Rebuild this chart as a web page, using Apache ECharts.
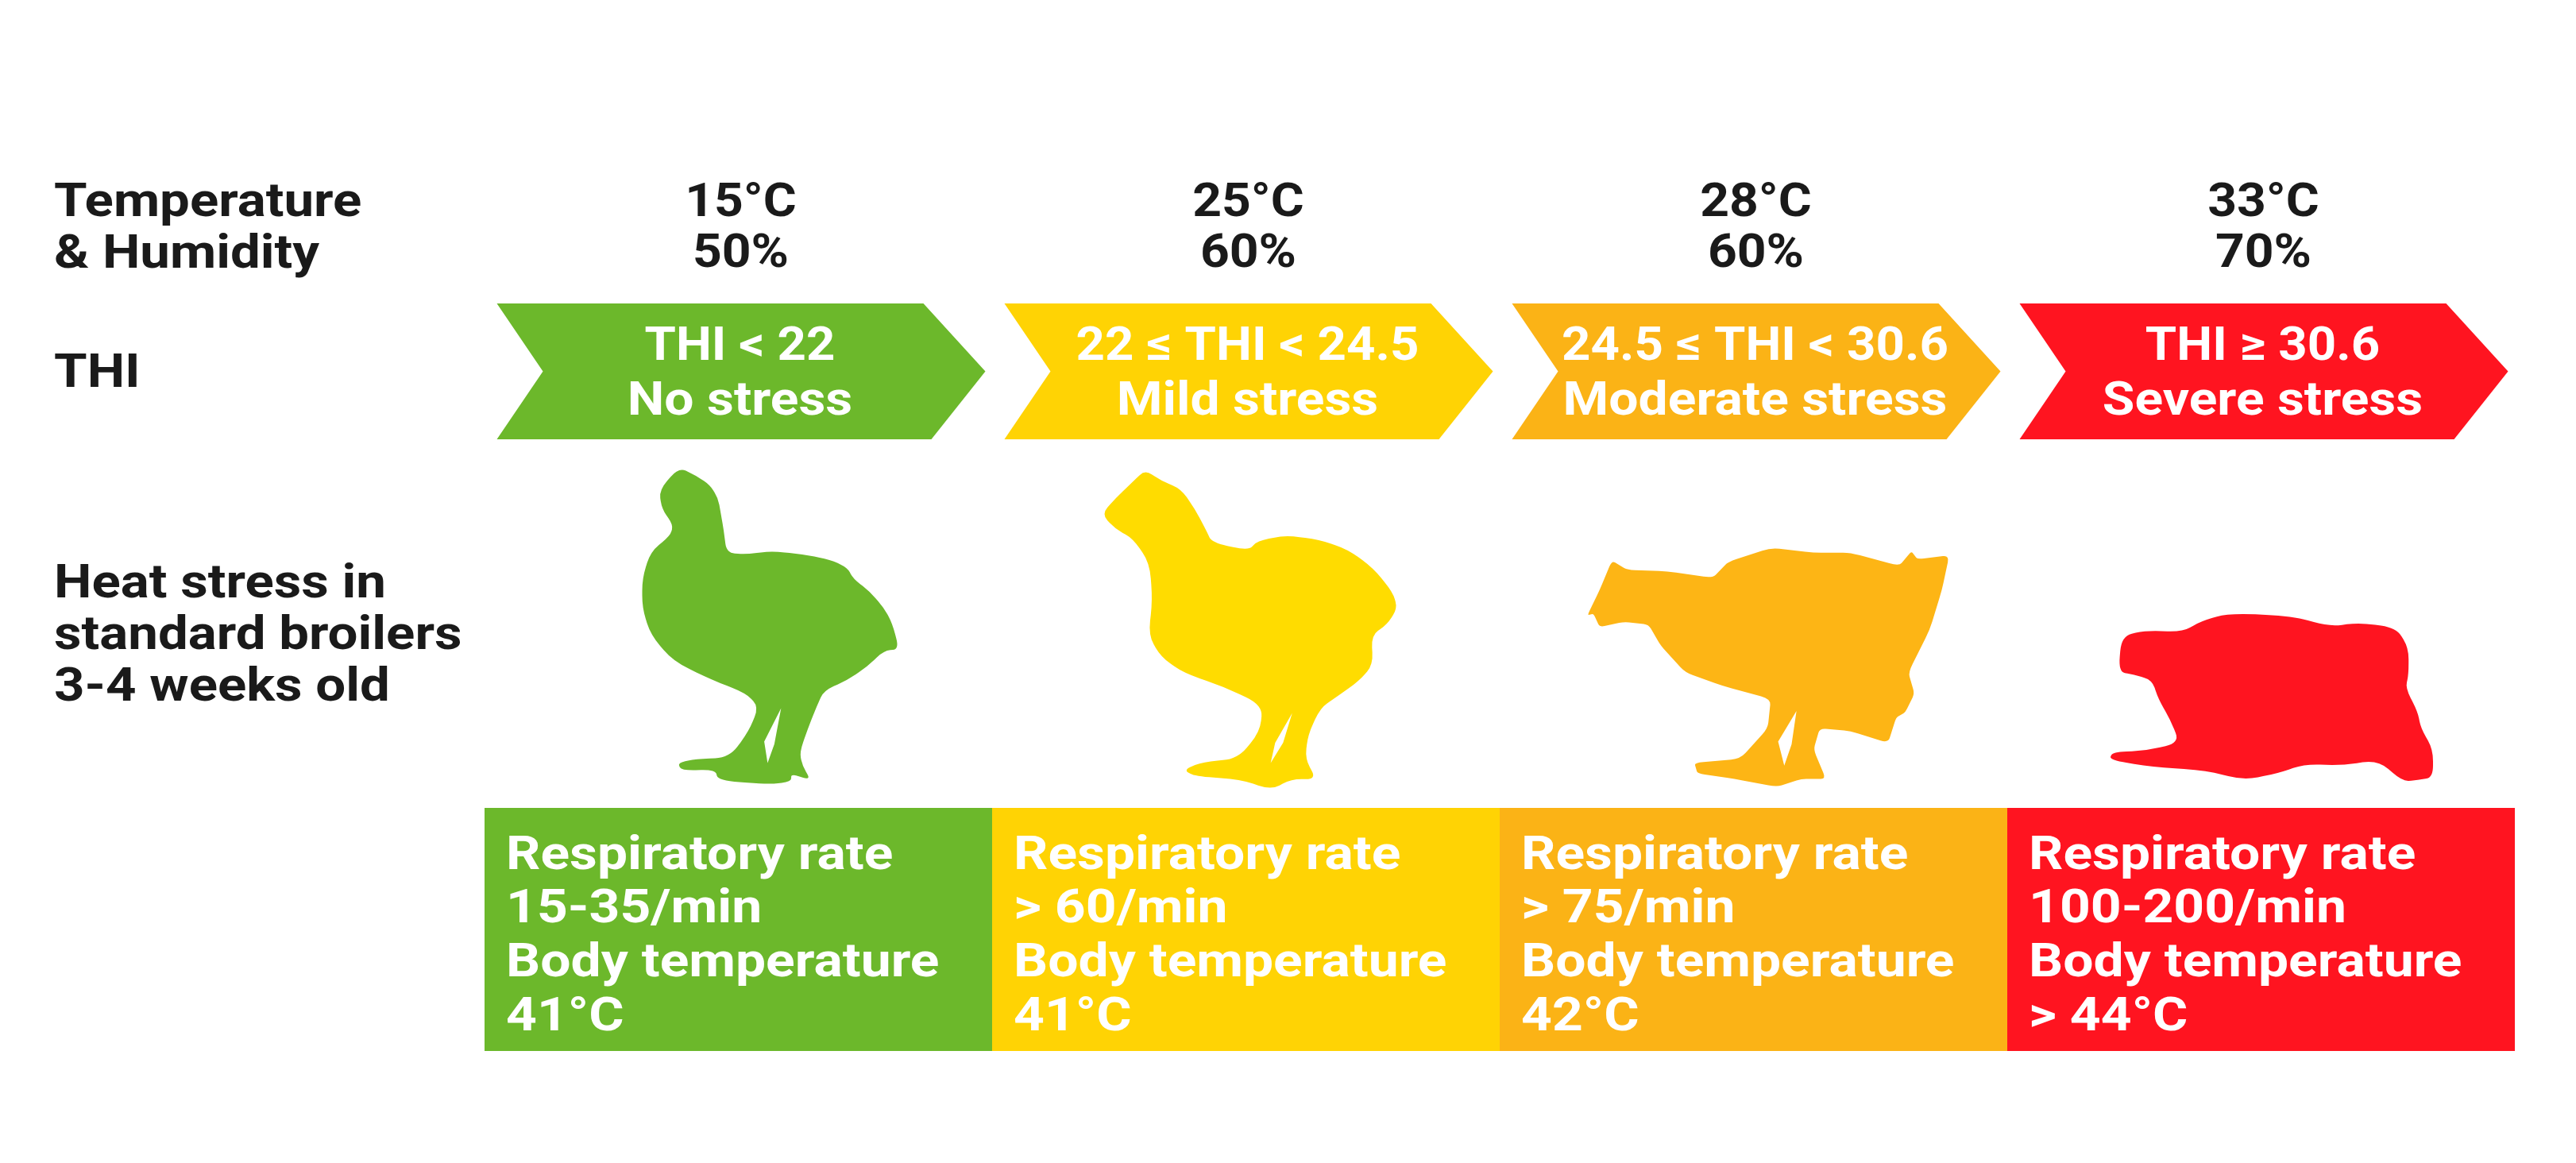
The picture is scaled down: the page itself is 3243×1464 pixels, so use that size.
<!DOCTYPE html>
<html>
<head>
<meta charset="utf-8">
<style>html,body{margin:0;padding:0;background:#fff}#c{width:3243px;height:1464px}</style>
<script src="https://cdn.jsdelivr.net/npm/echarts@6/dist/echarts.min.js"></script>
</head>
<body>
<div id="c"></div>
<script>
// ---- data ----
const stages = ['No stress', 'Mild stress', 'Moderate stress', 'Severe stress'];
const temperatures = [15, 25, 28, 33];
const humidities = [50, 60, 60, 70];
const thiLabels = ['THI < 22', '22 ≤ THI < 24.5', '24.5 ≤ THI < 30.6', 'THI ≥ 30.6'];
const respiratoryRates = ['15-35/min', '> 60/min', '> 75/min', '100-200/min'];
const bodyTemperatures = ['41°C', '41°C', '42°C', '> 44°C'];
const rowLabels = ['Temperature\n& Humidity', 'THI', 'Heat stress in\nstandard broilers\n3-4 weeks old'];

// ---- styles / layout ----
const colors = ['#6CB82B', '#FFD304', '#FBB316', '#FF1420'];
const birdColors = ['#6CB82B', '#FFDC00', '#FDB515', '#FF1420'];
const FONT = 'Roboto';
const SZ = 60;
const SX = { row: 1.12, head: 1.07, thi: 1.06, stress: 1.1, box: 1.13 };
const rowY = { head1: 257, head2: 321, chevTop: 382, chevBot: 553, thi: 438, stress: 507,
               boxTop: 1017, boxBot: 1323, boxLines: [1079, 1146, 1214, 1282] };

// chicken pictograms: outline in drawing units, size and centre on the page
const chickens = [
  { t: 0.42, c: [969, 789], s: [321, 395], o: [[220,65],[250,95],[275,130],[290,180],[295,240],[300,300],[305,385],[340,390],[385,378],[440,390],[490,410],[520,440],[530,480],[560,530],[585,590],[600,650],[612,745],[585,750],[555,810],[520,860],[478,900],[465,960],[450,1040],[435,1130],[440,1180],[455,1235],[420,1210],[420,1240],[380,1250],[290,1235],[285,1195],[225,1198],[218,1170],[250,1155],[310,1150],[345,1050],[362,960],[340,910],[280,860],[210,790],[170,690],[155,590],[155,480],[170,380],[205,320],[210,280],[190,220],[185,150]], h: [[402,965],[372,1090],[378,1170],[390,1100]] },
  { t: 0.42, c: [1574, 793], s: [367, 397], o: [[1062,75],[1090,115],[1125,145],[1150,220],[1170,300],[1180,345],[1245,375],[1260,340],[1310,318],[1370,335],[1420,370],[1465,440],[1500,530],[1508,590],[1490,650],[1462,690],[1465,800],[1440,860],[1400,920],[1372,960],[1350,1060],[1345,1150],[1365,1225],[1320,1225],[1285,1265],[1230,1225],[1150,1215],[1130,1190],[1165,1160],[1225,1150],[1265,1050],[1270,950],[1200,880],[1130,830],[1090,770],[1068,690],[1075,560],[1070,420],[1040,330],[1010,295],[985,240],[1010,180],[1040,120]], h: [[1322,980],[1292,1090],[1284,1165],[1306,1090]] },
  { t: 0.2, c: [2226, 840], s: [453, 299], o: [[170,170],[195,205],[260,210],[335,235],[360,175],[430,122],[500,140],[560,140],[640,190],[660,135],[670,165],[722,150],[710,280],[690,430],[655,590],[665,670],[650,740],[635,760],[622,855],[560,810],[510,800],[500,880],[520,990],[480,990],[440,1020],[370,990],[310,970],[305,930],[380,915],[425,800],[430,690],[350,640],[290,590],[250,490],[230,410],[190,400],[150,420],[140,370],[130,375],[150,280]], h: [[472,735],[442,850],[452,940],[464,860]] },
  { t: 0.42, c: [2860, 878], s: [406, 210], o: [[1010,455],[1050,435],[1110,440],[1140,400],[1185,370],[1290,380],[1350,420],[1400,405],[1460,425],[1480,500],[1480,600],[1475,650],[1495,740],[1500,800],[1520,880],[1520,985],[1495,995],[1470,1000],[1430,920],[1370,940],[1310,935],[1265,970],[1210,995],[1150,960],[1060,945],[990,920],[995,890],[1050,885],[1105,855],[1090,770],[1070,690],[1060,620],[1030,600],[1005,590]], h: null }
];

// closed outline with rounded corners (t = share of each edge used by the curve)
function ring(p, t) {
  const n = p.length;
  const lerp = (a, b, f) => [a[0] + (b[0] - a[0]) * f, a[1] + (b[1] - a[1]) * f];
  let d = '';
  for (let i = 0; i < n; i++) {
    const a = lerp(p[i], p[(i + n - 1) % n], t), b = lerp(p[i], p[(i + 1) % n], t);
    d += (i ? 'L' : 'M') + a[0] + ' ' + a[1] + 'Q' + p[i][0] + ' ' + p[i][1] + ' ' + b[0] + ' ' + b[1];
  }
  return d + 'Z';
}
function chickenPath(k) {
  return ring(k.o, k.t) + (k.h ? 'M' + k.h.map(q => q.join(' ')).join('L') + 'Z' : '');
}

const chart = echarts.init(document.getElementById('c'), null, { renderer: 'canvas' });

function txt(text, x, y, fill, sx, align) {
  return { type: 'text', x: x, y: y, scaleX: sx, style: { text: text, fill: fill, font: '700 ' + SZ + 'px ' + FONT, align: align || 'center', verticalAlign: 'middle' } };
}

function renderChevron(params, api) {
  const i = api.value(0);
  const c = api.coord([i, rowY.chevTop])[0];
  const t = api.coord([i, rowY.chevTop])[1];
  const b = api.coord([i, rowY.chevBot])[1];
  const m = (t + b) / 2;
  const L = c - 304, R = c + 311;
  return {
    type: 'group',
    children: [
      { type: 'polygon', shape: { points: [[L, t], [R - 78, t], [R, m], [R - 68, b], [L, b], [L + 58, m]] }, style: { fill: colors[i] } },
      txt(thiLabels[i], c + 2, api.coord([i, rowY.thi])[1], '#FFFFFF', SX.thi),
      txt(stages[i], c + 2, api.coord([i, rowY.stress])[1], '#FFFFFF', SX.stress),
      txt(temperatures[i] + '°C', c + 3, api.coord([i, rowY.head1])[1], '#1A1A1A', SX.head),
      txt(humidities[i] + '%', c + 3, api.coord([i, rowY.head2])[1], '#1A1A1A', SX.head)
    ]
  };
}

function renderBox(params, api) {
  const i = api.value(0);
  const p = api.coord([i, rowY.boxTop]);
  const q = api.coord([i, rowY.boxBot]);
  const w = api.size([1, 0])[0];
  const x = p[0] - w / 2;
  const lines = ['Respiratory rate', respiratoryRates[i], 'Body temperature', bodyTemperatures[i]];
  return {
    type: 'group',
    children: [
      { type: 'rect', shape: { x: x, y: p[1], width: w, height: q[1] - p[1] }, style: { fill: colors[i] } }
    ].concat(lines.map((s, k) => txt(s, x + 27, api.coord([i, rowY.boxLines[k]])[1], '#FFFFFF', SX.box, 'left')))
  };
}

function renderChicken(params, api) {
  const i = api.value(0), k = chickens[i];
  return {
    type: 'path',
    shape: { pathData: chickenPath(k), x: k.c[0] - k.s[0] / 2, y: k.c[1] - k.s[1] / 2, width: k.s[0], height: k.s[1], layout: 'cover' },
    style: { fill: birdColors[i] }
  };
}

function rowText(text, top) {
  return { type: 'text', x: 68, y: top, scaleX: SX.row, style: { text: text, fill: '#1A1A1A', font: '700 ' + SZ + 'px ' + FONT, lineHeight: 65, verticalAlign: 'top' } };
}

chart.setOption({
  animation: false,
  backgroundColor: '#FFFFFF',
  grid: { left: 610, right: 77, top: 0, bottom: 0, containLabel: false },
  xAxis: { type: 'category', data: stages, show: false, boundaryGap: true },
  yAxis: { type: 'value', min: 0, max: 1464, inverse: true, show: false },
  series: [
    { type: 'custom', renderItem: renderBox, data: stages.map((s, i) => [i]), encode: { x: 0 }, clip: false, silent: true },
    { type: 'custom', renderItem: renderChevron, data: stages.map((s, i) => [i]), encode: { x: 0 }, clip: false, silent: true },
    { type: 'custom', renderItem: renderChicken, data: stages.map((s, i) => [i]), encode: { x: 0 }, clip: false, silent: true }
  ],
  graphic: { elements: [ rowText(rowLabels[0], 224), rowText(rowLabels[1], 439), rowText(rowLabels[2], 704) ] }
});
</script>
</body>
</html>
